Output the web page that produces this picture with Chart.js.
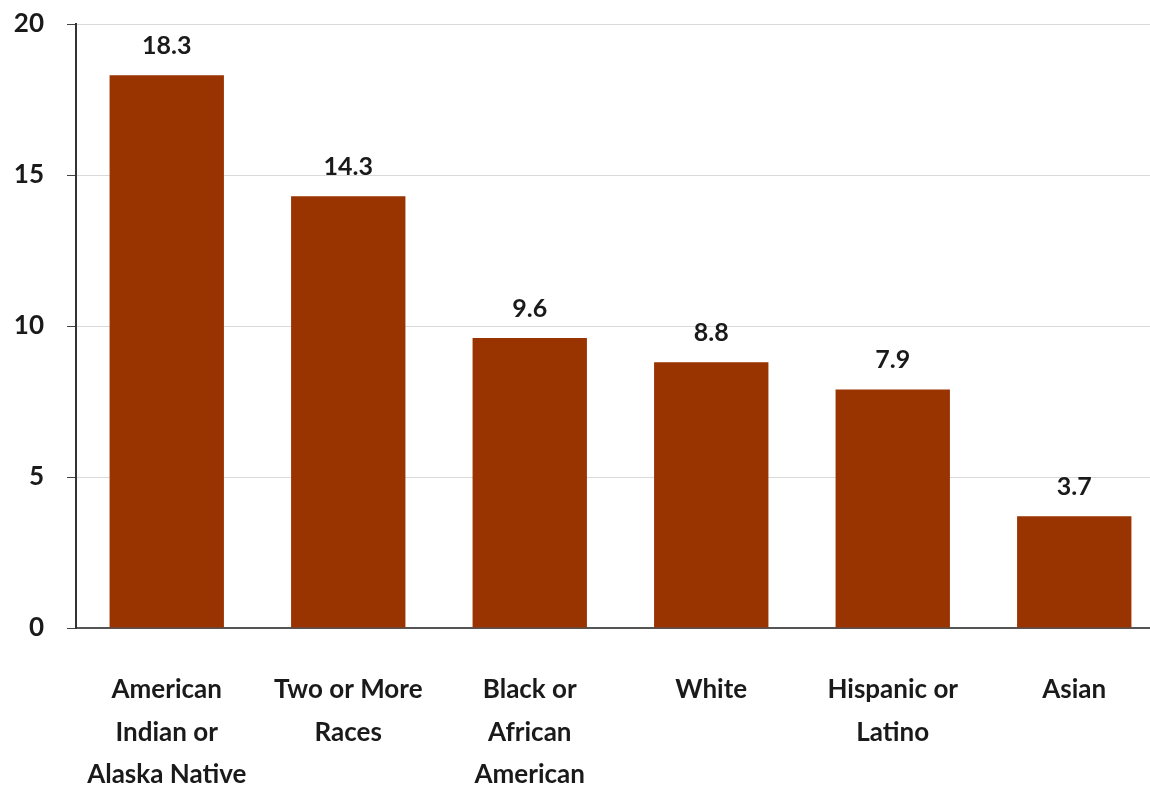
<!DOCTYPE html>
<html>

<head>
    <title>Rates by race and ethnicity</title>
    <script src="https://cdn.jsdelivr.net/npm/chart.js"></script>
    <style>
        html, body { margin: 0; padding: 0; background: #fff; overflow: hidden; }
    </style>
</head>

<body>

    <canvas id="myChart" width="1165" height="785"></canvas>

    <script>
        // chart data
        const categories = [
            ['American', 'Indian or', 'Alaska Native'],
            ['Two or More', 'Races'],
            ['Black or', 'African', 'American'],
            ['White'],
            ['Hispanic or', 'Latino'],
            ['Asian']
        ];
        const rates = [18.3, 14.3, 9.6, 8.8, 7.9, 3.7];
        const yTicks = [0, 5, 10, 15, 20];

        const FONT = 'Lato, "Open Sans", sans-serif';

        // draws the value above each bar
        const valueLabels = {
            id: 'valueLabels',
            afterDatasetsDraw(chart) {
                const ctx = chart.ctx;
                const meta = chart.getDatasetMeta(0);
                ctx.save();
                ctx.font = 'bold 25px ' + FONT;
                ctx.fillStyle = '#1a1a1a';
                ctx.textAlign = 'center';
                ctx.textBaseline = 'middle';
                meta.data.forEach((bar, i) => {
                    ctx.fillText(rates[i].toFixed(1), bar.x, bar.y - 29);
                });
                ctx.restore();
            }
        };

        var ctx = document.getElementById('myChart').getContext('2d');

        var myChart = new Chart(ctx, {
            type: 'bar',
            data: {
                labels: categories,
                datasets: [{
                    data: rates,
                    backgroundColor: '#993300',
                    borderWidth: 0,
                    barPercentage: 0.63,
                    categoryPercentage: 1
                }]
            },
            options: {
                responsive: false,
                animation: false,
                layout: { padding: { top: 24, right: 0, left: 0, bottom: 0 } },
                plugins: {
                    legend: { display: false },
                    tooltip: { enabled: false }
                },
                scales: {
                    x: {
                        grid: { display: false },
                        border: { display: true, color: '#555', width: 2 },
                        ticks: {
                            color: '#1a1a1a',
                            font: { family: FONT, size: 26, weight: 'bold', lineHeight: 1.62 },
                            padding: 33,
                            maxRotation: 0,
                            autoSkip: false
                        },
                        afterFit(scale) { scale.height = 157; }
                    },
                    y: {
                        min: 0,
                        max: 20,
                        afterBuildTicks(scale) {
                            scale.ticks = yTicks.map(v => ({ value: v }));
                        },
                        grid: {
                            color: '#d9d9d9',
                            tickColor: '#444',
                            tickLength: 9,
                            lineWidth: 1
                        },
                        border: { display: true, color: '#333', width: 2 },
                        ticks: {
                            color: '#1a1a1a',
                            font: { family: FONT, size: 26, weight: 'bold', lineHeight: 0.5 },
                            padding: 23
                        },
                        afterFit(scale) {
                            scale.width = 76;
                            scale.paddingTop = 0;
                        }
                    }
                }
            },
            plugins: [valueLabels]
        });
    </script>

</body>

</html>
